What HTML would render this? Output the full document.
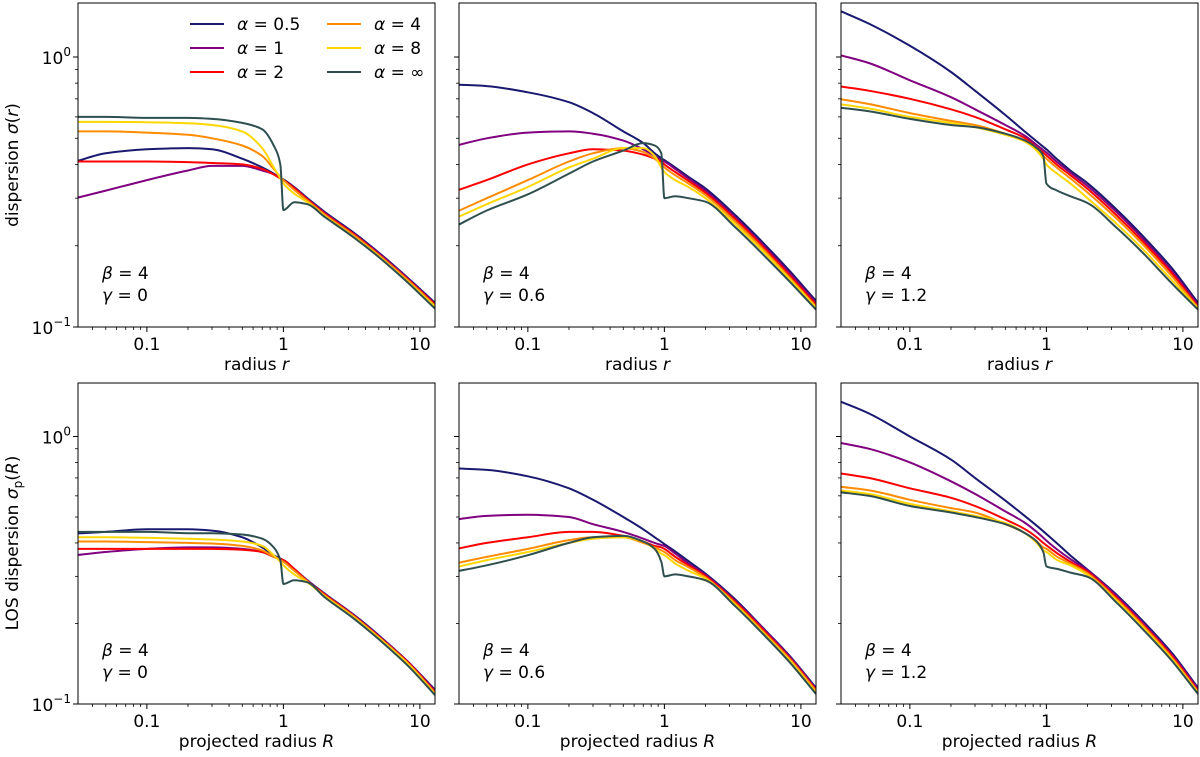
<!DOCTYPE html>
<html><head><meta charset="utf-8"><style>
body{margin:0;background:#fff;}
svg{display:block;font-family:"DejaVu Sans","Liberation Sans",sans-serif;}
</style></head><body>
<svg id="fig" width="1200" height="757" viewBox="0 0 1200 757" xmlns="http://www.w3.org/2000/svg"></svg>
<script>
const xGrid = [0.03,0.05,0.1,0.2,0.3,0.5,0.7,0.85,0.95,1,1.2,1.5,2,3.3,5.1,8.4,12.9];
const alphaLabels = ["0.5","1","2","4","8","∞"];
const gammaLabels = ["0","0.6","1.2"];
const xTickValues = [0.1,1,10];
const xTickLabels = ["0.1","1","10"];
const yTickValues = [0.1,1];
// top row: sigma(r)
const p1_a05=[0.41,0.44,0.455,0.46,0.455,0.42,0.39,0.37,0.357,0.352,0.33,0.30,0.267,0.223,0.187,0.150,0.123];
const p1_a1=[0.30,0.32,0.35,0.38,0.395,0.395,0.38,0.368,0.356,0.35,0.328,0.298,0.265,0.221,0.186,0.149,0.122];
const p1_a2=[0.41,0.41,0.41,0.408,0.405,0.40,0.385,0.367,0.355,0.35,0.327,0.297,0.263,0.220,0.184,0.148,0.121];
const p1_a4=[0.53,0.53,0.525,0.515,0.50,0.47,0.43,0.385,0.36,0.35,0.322,0.294,0.261,0.218,0.183,0.147,0.120];
const p1_a8=[0.575,0.575,0.573,0.568,0.56,0.53,0.46,0.39,0.355,0.34,0.312,0.29,0.258,0.215,0.181,0.145,0.119];
const p1_ainf=[0.60,0.60,0.595,0.595,0.59,0.57,0.54,0.47,0.40,0.271,0.29,0.285,0.256,0.214,0.180,0.144,0.117];
const p2_a05=[0.79,0.78,0.74,0.68,0.62,0.53,0.48,0.44,0.422,0.415,0.39,0.36,0.326,0.260,0.209,0.160,0.125];
const p2_a1=[0.47,0.50,0.525,0.53,0.52,0.49,0.455,0.43,0.415,0.41,0.385,0.355,0.320,0.255,0.205,0.157,0.123];
const p2_a2=[0.32,0.35,0.40,0.44,0.455,0.45,0.435,0.42,0.41,0.40,0.375,0.348,0.314,0.251,0.202,0.154,0.121];
const p2_a4=[0.267,0.30,0.35,0.41,0.44,0.46,0.445,0.42,0.40,0.39,0.365,0.34,0.308,0.246,0.198,0.151,0.119];
const p2_a8=[0.254,0.285,0.33,0.39,0.42,0.46,0.46,0.43,0.39,0.375,0.35,0.33,0.300,0.240,0.194,0.149,0.118];
const p2_ainf=[0.237,0.27,0.31,0.37,0.41,0.45,0.48,0.47,0.44,0.30,0.305,0.30,0.291,0.234,0.189,0.146,0.116];
const p3_a05=[1.49,1.33,1.1,0.88,0.75,0.61,0.528,0.487,0.465,0.455,0.418,0.38,0.341,0.271,0.217,0.164,0.123];
const p3_a1=[1.02,0.95,0.82,0.71,0.64,0.56,0.51,0.472,0.452,0.443,0.408,0.373,0.333,0.265,0.212,0.160,0.121];
const p3_a2=[0.78,0.75,0.70,0.64,0.60,0.54,0.50,0.462,0.442,0.432,0.398,0.365,0.325,0.258,0.207,0.157,0.119];
const p3_a4=[0.70,0.67,0.62,0.58,0.56,0.52,0.49,0.455,0.43,0.42,0.388,0.355,0.315,0.251,0.202,0.153,0.118];
const p3_a8=[0.67,0.645,0.60,0.57,0.55,0.515,0.485,0.45,0.42,0.40,0.37,0.34,0.30,0.240,0.194,0.148,0.117];
const p3_ainf=[0.65,0.63,0.59,0.56,0.55,0.52,0.49,0.46,0.43,0.34,0.32,0.305,0.288,0.232,0.188,0.144,0.116];
// bottom row: sigma_p(R)
const p4_a05=[0.434,0.44,0.45,0.45,0.445,0.42,0.385,0.36,0.35,0.345,0.32,0.29,0.259,0.215,0.179,0.142,0.113];
const p4_a1=[0.36,0.37,0.38,0.385,0.385,0.38,0.37,0.355,0.348,0.345,0.32,0.289,0.258,0.214,0.178,0.142,0.112];
const p4_a2=[0.38,0.38,0.38,0.38,0.38,0.377,0.37,0.355,0.348,0.345,0.32,0.288,0.257,0.213,0.177,0.141,0.111];
const p4_a4=[0.405,0.405,0.403,0.40,0.398,0.39,0.375,0.355,0.345,0.34,0.315,0.287,0.255,0.212,0.176,0.140,0.110];
const p4_a8=[0.42,0.42,0.418,0.415,0.412,0.405,0.39,0.36,0.34,0.33,0.305,0.285,0.253,0.210,0.175,0.139,0.109];
const p4_ainf=[0.44,0.44,0.44,0.435,0.435,0.43,0.415,0.385,0.345,0.281,0.29,0.285,0.251,0.208,0.173,0.137,0.108];
const p5_a05=[0.76,0.75,0.71,0.64,0.58,0.50,0.45,0.42,0.404,0.396,0.372,0.342,0.307,0.246,0.196,0.150,0.115];
const p5_a1=[0.49,0.505,0.51,0.50,0.47,0.44,0.415,0.40,0.393,0.39,0.365,0.335,0.304,0.243,0.195,0.149,0.114];
const p5_a2=[0.38,0.40,0.42,0.44,0.44,0.425,0.405,0.39,0.385,0.38,0.355,0.33,0.301,0.241,0.193,0.147,0.113];
const p5_a4=[0.336,0.355,0.38,0.41,0.42,0.42,0.40,0.385,0.375,0.37,0.345,0.325,0.297,0.238,0.190,0.146,0.112];
const p5_a8=[0.325,0.345,0.37,0.40,0.415,0.42,0.405,0.38,0.365,0.36,0.335,0.315,0.294,0.235,0.188,0.144,0.110];
const p5_ainf=[0.313,0.33,0.36,0.40,0.42,0.425,0.405,0.38,0.34,0.30,0.305,0.30,0.290,0.232,0.186,0.142,0.109];
const p6_a05=[1.36,1.22,1.0,0.82,0.70,0.576,0.503,0.464,0.442,0.432,0.398,0.359,0.318,0.255,0.204,0.154,0.115];
const p6_a1=[0.95,0.90,0.80,0.68,0.61,0.525,0.475,0.44,0.418,0.408,0.378,0.348,0.316,0.252,0.201,0.152,0.114];
const p6_a2=[0.73,0.70,0.64,0.59,0.55,0.49,0.45,0.42,0.40,0.392,0.366,0.34,0.312,0.248,0.198,0.150,0.112];
const p6_a4=[0.65,0.63,0.58,0.54,0.52,0.47,0.435,0.405,0.385,0.38,0.355,0.335,0.308,0.245,0.196,0.148,0.111];
const p6_a8=[0.63,0.61,0.56,0.525,0.505,0.475,0.435,0.40,0.375,0.37,0.345,0.33,0.304,0.242,0.193,0.146,0.110];
const p6_ainf=[0.62,0.60,0.55,0.52,0.50,0.47,0.435,0.405,0.37,0.327,0.32,0.31,0.299,0.238,0.190,0.144,0.109];

const panelsData=[[p1_a05,p1_a1,p1_a2,p1_a4,p1_a8,p1_ainf],[p2_a05,p2_a1,p2_a2,p2_a4,p2_a8,p2_ainf],[p3_a05,p3_a1,p3_a2,p3_a4,p3_a8,p3_ainf],
[p4_a05,p4_a1,p4_a2,p4_a4,p4_a8,p4_ainf],[p5_a05,p5_a1,p5_a2,p5_a4,p5_a8,p5_ainf],[p6_a05,p6_a1,p6_a2,p6_a4,p6_a8,p6_ainf]];
const colors=["#191970","#800080","#ff0000","#ff8c00","#ffd700","#2f4f4f"];
const NS="http://www.w3.org/2000/svg";
const svg=document.getElementById('fig');
function mk(tag,attrs,parent){const e=document.createElementNS(NS,tag);for(const k in attrs)e.setAttribute(k,attrs[k]);(parent||svg).appendChild(e);return e;}
function monoPath(px,py){
  const n=px.length, d=[], m=new Array(n);
  for(let i=0;i<n-1;i++)d.push((py[i+1]-py[i])/(px[i+1]-px[i]));
  m[0]=d[0]; m[n-1]=d[n-2];
  for(let i=1;i<n-1;i++){ if(d[i-1]*d[i]<=0)m[i]=0; else { const h0=px[i]-px[i-1],h1=px[i+1]-px[i]; const w1=2*h1+h0,w2=h1+2*h0; m[i]=(w1+w2)/(w1/d[i-1]+w2/d[i]); } }
  let s='M'+px[0].toFixed(1)+','+py[0].toFixed(1);
  for(let i=0;i<n-1;i++){const h=(px[i+1]-px[i])/3;
    s+='C'+(px[i]+h).toFixed(1)+','+(py[i]+m[i]*h).toFixed(1)+' '+(px[i+1]-h).toFixed(1)+','+(py[i+1]-m[i+1]*h).toFixed(1)+' '+px[i+1].toFixed(1)+','+py[i+1].toFixed(1);}
  return s;
}
const colX=[78,459,841], W=357, rowY=[3,383], rowH=[324,321];
const xMin=Math.log10(0.0313), xMax=Math.log10(12.9), yMin=-1, yMax=0.2;
for(let pi=0;pi<6;pi++){
  const row=Math.floor(pi/3), col=pi%3;
  const L=colX[col], T=rowY[row], H=rowH[row];
  const g=mk('g',{});
  
  
  const sx=v=>L+(Math.log10(v)-xMin)/(xMax-xMin)*W;
  const sy=v=>T+H-(Math.log10(v)-yMin)/(yMax-yMin)*H;
  const cp='cp'+pi;
  const cl=mk('clipPath',{id:cp},g); mk('rect',{x:L,y:T,width:W,height:H},cl);
  const lines=mk('g',{'clip-path':'url(#'+cp+')'},g);
  panelsData[pi].forEach((ser,si)=>{
    const d=monoPath(xGrid.map(sx),ser.map(sy));
    const p=mk('path',{d:d,fill:'none',stroke:colors[si],'stroke-width':2,'stroke-linejoin':'round'},lines);
    
    
  });
  const fr=mk('rect',{x:L,y:T,width:W,height:H,fill:'none',stroke:'#000','stroke-width':1},g);
  
  
  for(let dec=-2;dec<=1;dec++)for(let m=1;m<10;m++){const v=m*Math.pow(10,dec);const lv=Math.log10(v);if(lv<xMin||lv>xMax)continue;const x=sx(v);mk('line',{x1:x,x2:x,y1:T+H,y2:T+H+(m===1?5:3),stroke:'#000','stroke-width':m===1?1:0.8},g);}
  xTickValues.forEach((v,i)=>{const t=mk('text',{x:sx(v),y:T+H+23,'text-anchor':'middle','font-size':17},g);t.textContent=xTickLabels[i];});
  for(let m=1;m<=10;m++){const v=m*0.1;if(Math.log10(v)>yMax)continue;const y=sy(v);mk('line',{x1:L,x2:L-(m===1||m===10?5:3),y1:y,y2:y,stroke:'#000','stroke-width':(m===1||m===10)?1:0.8},g);}
  if(col===0){yTickValues.forEach((v,i)=>{const t=mk('text',{x:L-7,y:sy(v)+7,'text-anchor':'end','font-size':17},g);t.innerHTML=i===0?'10<tspan dy="-8" font-size="12">−1</tspan>':'10<tspan dy="-8" font-size="12">0</tspan>';});}
  const xl=mk('text',{x:L+W/2,y:T+H+43,'text-anchor':'middle','font-size':17},g);
  xl.innerHTML=row===0?'radius <tspan font-style="italic">r</tspan>':'projected radius <tspan font-style="italic">R</tspan>';
  
  const a1=mk('text',{x:L+24,y:T+H-48,'font-size':17},g);a1.innerHTML='<tspan font-style="italic">β</tspan> = 4';
  
  const a2=mk('text',{x:L+24,y:T+H-26,'font-size':17},g);a2.innerHTML='<tspan font-style="italic">γ</tspan> = '+gammaLabels[col];
  
  if(pi===0){
    const lg=mk('g',{},g);
    alphaLabels.forEach((a,i)=>{const c=Math.floor(i/3),r=i%3;const lx=L+112+c*137,ly=T+21+r*24;
      const e=mk('g',{},lg);
      mk('line',{x1:lx,x2:lx+34,y1:ly,y2:ly,stroke:colors[i],'stroke-width':2},e);
      const t=mk('text',{x:lx+47,y:ly+6,'font-size':17},e);t.innerHTML='<tspan font-style="italic">α</tspan> = '+a;});
  }
}
const yl1=mk('text',{x:0,y:0,'font-size':17,'text-anchor':'middle',transform:'translate(18,165) rotate(-90)'});
yl1.innerHTML='dispersion <tspan font-style="italic">σ</tspan>(<tspan font-style="italic">r</tspan>)';


const yl2=mk('text',{x:0,y:0,'font-size':17,'text-anchor':'middle',transform:'translate(18,543) rotate(-90)'});
yl2.innerHTML='LOS dispersion <tspan font-style="italic">σ</tspan><tspan font-size="12" dy="4">p</tspan><tspan dy="-4">(</tspan><tspan font-style="italic">R</tspan>)';


</script>
</body></html>
